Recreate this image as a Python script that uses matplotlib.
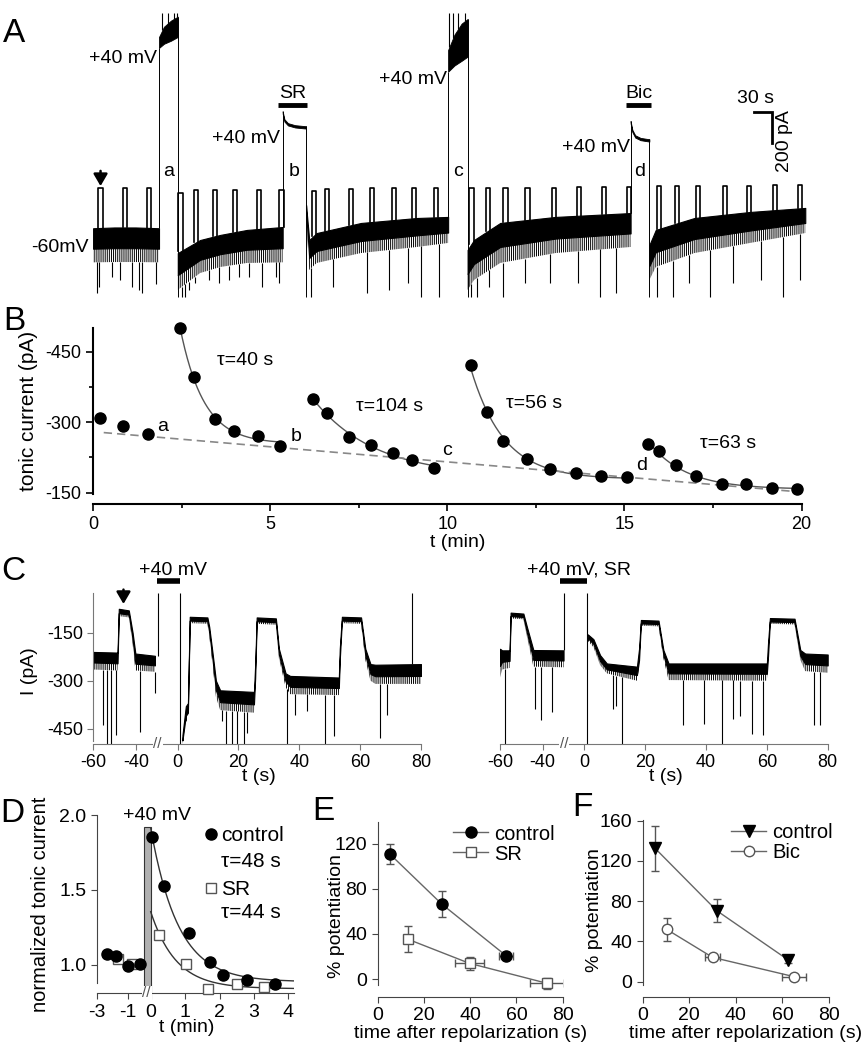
import numpy as np
import matplotlib.pyplot as plt
from matplotlib.ticker import MultipleLocator

plt.rcParams['font.family'] = ['Liberation Sans', 'DejaVu Sans']
plt.rcParams['font.size'] = 14
plt.rcParams['xtick.labelsize'] = 13
plt.rcParams['ytick.labelsize'] = 13
plt.rcParams['axes.unicode_minus'] = False
plt.rcParams['hatch.linewidth'] = 0.7

# ---------------- panel A: whole recording (t in min, I in pA) ----------------
a_seg_t = [[0.0, 0.6, 1.2, 1.86],
           [2.39, 3.02, 3.59, 4.34, 5.35],
           [6.01, 6.1, 6.31, 7.56, 9.13, 10.02],
           [10.57, 10.75, 11.49, 13.05, 15.17],
           [15.70, 15.88, 16.97, 18.54, 20.1]]
a_seg_top = [[-200, -195, -195, -200],
             [-360, -276, -243, -211, -192],
             [-50, -276, -231, -166, -134, -127],
             [-340, -276, -166, -127, -102],
             [-308, -211, -134, -95, -69]]
a_seg_bot = [[-420, -418, -418, -420],
             [-598, -489, -450, -424, -420],
             [-114, -469, -424, -360, -321, -295],
             [-598, -534, -424, -360, -321],
             [-534, -450, -360, -295, -231]]
a_spike_t = [0.10, 0.16, 0.52, 0.76, 1.09, 1.29, 1.37, 1.77,
             2.50, 2.60, 2.70, 2.89, 3.27, 3.55, 3.83, 4.12, 4.40, 4.78, 5.16, 5.26,
             6.16, 6.78, 7.72, 8.35, 8.90, 9.26, 9.76,
             10.67, 10.83, 11.17, 11.56, 12.19, 12.90, 13.68, 14.31, 14.75,
             15.91, 16.38, 16.82, 17.41, 18.07, 18.85, 19.48, 19.95]
a_spike_i = [-618, -579, -514, -534, -579, -600, -618, -560,
             -643, -643, -598, -553, -534, -553, -534, -514, -514, -579, -514, -553,
             -643, -579, -618, -598, -553, -643, -643,
             -643, -643, -579, -643, -553, -553, -553, -643, -618,
             -643, -643, -553, -643, -553, -534, -643, -534]
a_pulse_t = [0.21, 0.90, 1.58, 2.47, 2.90, 3.44, 4.00, 4.69, 5.32,
             6.23, 6.61, 7.27, 7.88, 8.50, 9.05, 9.68,
             10.68, 11.15, 11.64, 12.26, 13.00, 13.71, 14.41, 15.12,
             15.98, 16.48, 17.08, 17.83, 18.52, 19.24, 19.95]
a_pulse_top = [58, 58, 58, 30, 47, 47, 47, 47, 47,
               43, 50, 55, 60, 60, 60, 60,
               60, 60, 60, 62, 62, 65, 65, 65,
               70, 72, 75, 75, 75, 78, 78]
a_step_t = [[1.86, 2.0, 2.2, 2.39], [5.35, 5.40, 5.50, 5.70, 6.01],
            [10.02, 10.2, 10.4, 10.57], [15.17, 15.22, 15.30, 15.45, 15.70]]
a_step_lo = [[963, 990, 1010, 1034], [540, 488, 463, 450, 443],
             [810, 850, 880, 907], [477, 420, 385, 368, 359]]
a_step_hi = [[1034, 1100, 1140, 1165], [555, 503, 478, 465, 458],
             [950, 1050, 1120, 1150], [492, 435, 400, 383, 374]]
a_step_spike_t = [1.95, 2.10, 2.28, 2.36, 10.05, 10.16, 10.30, 10.50]
a_step_labels = ['a', 'b', 'c', 'd']
a_drug_names = ['SR', 'Bic']
a_drug_start = [5.23, 15.04]
a_drug_end = [6.05, 15.75]

# ---------------- panel B: tonic current (t in min, I in pA) ----------------
b_t = [[0.19, 0.85, 1.54],
       [2.45, 2.85, 3.44, 3.98, 4.66, 5.27],
       [6.21, 6.59, 7.23, 7.84, 8.46, 8.99, 9.63],
       [10.66, 11.11, 11.56, 12.24, 12.91, 13.63, 14.35, 15.08],
       [15.67, 15.97, 16.45, 17.01, 17.76, 18.42, 19.17, 19.86]]
b_i = [[-308, -291, -276],
       [-501, -396, -307, -282, -271, -249],
       [-349, -320, -269, -251, -234, -220, -203],
       [-421, -321, -260, -221, -200, -192, -186, -184],
       [-253, -239, -210, -186, -168, -168, -159, -157]]
b_tau = [None, 40, 104, 56, 63]
b_base_t = [0.3, 19.9]
b_base_i = [-278, -152]

# ---------------- panel C: single sweeps (t in s, I in pA) ----------------
c1_pre_t = [-60, -48.6, -48.0, -43.3, -41.5, -40.2, -31.0]
c1_pre_top = [-210, -212, -75, -80, -150, -215, -222]
c1_pre_bot = [-265, -268, -98, -102, -185, -268, -272]
c1_post_t = [1.6, 2.7, 3.4, 4.0, 9.8, 10.4, 11.5, 12.6, 14.0, 25.1, 25.5, 26.0, 32.3,
             33.3, 35.5, 37.0, 53.0, 53.3, 54.0, 60.3, 61.7, 63.4, 65.0, 80.0]
c1_post_top = [-470, -380, -370, -100, -102, -131, -214, -300, -330, -335, -250, -102, -105,
               -200, -277, -285, -290, -200, -100, -102, -200, -248, -250, -248]
c1_post_bot = [-498, -430, -420, -120, -122, -160, -250, -350, -392, -400, -320, -122, -125,
               -230, -320, -342, -345, -260, -120, -122, -235, -300, -310, -310]
c1_spike_t = [-55.3, -53.7, -51.7, -49.3, -38.0, -30.9,
              14.5, 15.95, 17.8, 19.5, 21.9, 22.8, 35.9, 38.7, 42.5, 48.5, 51.3, 66.6, 68.8]
c1_spike_i = [-440, -498, -498, -471, -461, -339,
              -427, -498, -498, -498, -498, -463, -498, -406, -396, -498, -474, -479, -406]
c1_step = [-28.1, 0.8]
c1_transient_t = 77.2

c2_pre_t = [-60, -59, -55.5, -55.0, -49.0, -47.4, -44.3, -30.1]
c2_pre_top = [-200, -205, -205, -87, -90, -130, -204, -205]
c2_pre_bot = [-290, -265, -260, -105, -108, -160, -256, -258]
c2_post_t = [1.15, 3.0, 5.2, 7.4, 17.3, 18.0, 18.6, 24.4, 26.0, 27.7, 60.0, 60.4, 61.0,
             69.1, 71.0, 72.6, 80.0]
c2_post_top = [-155, -170, -220, -246, -256, -200, -110, -112, -204, -246, -246, -180, -104,
               -106, -204, -215, -218]
c2_post_bot = [-175, -195, -251, -277, -300, -260, -128, -130, -230, -298, -300, -250, -122,
               -124, -235, -270, -275]
c2_spike_t = [-57.6, -43.5, -40.7, -35.3, 9.3, 10.4, 12.5, 32.3, 39.2, 45.2, 49.0, 51.1,
              55.1, 58.7, 75.4, 77.6]
c2_spike_i = [-498, -387, -424, -398, -390, -380, -498, -440, -435, -498, -420, -410,
              -466, -471, -440, -440]
c2_step = [-29.7, 0.8]

# ---------------- panel D: normalized tonic current (t in min) ----------------
d_ctrl_t = [-2.35, -1.75, -0.96, -0.21, 0.03, 0.39, 1.12, 1.72, 2.11, 2.79, 3.61]
d_ctrl_v = [1.073, 1.062, 0.995, 1.005, 1.851, 1.527, 1.211, 1.022, 0.933, 0.90, 0.871]
d_sr_t = [-1.60, -0.74, 0.25, 1.03, 1.67, 2.50, 3.29]
d_sr_v = [1.04, 1.005, 1.20, 1.005, 0.84, 0.871, 0.855]
d_tau_ctrl, d_tau_sr = 48, 44

# ---------------- panels E, F: % potentiation ----------------
e_ctrl_x = [5.3, 27.7, 55.5]
e_ctrl_y = [110.8, 66.5, 20.7]
e_ctrl_xerr = [0, 0, 3.2]
e_ctrl_yerr = [9, 11.2, 3]
e_sr_x = [13.2, 39.7, 73.2]
e_sr_y = [35.2, 13.9, -3.8]
e_sr_xerr = [0, 6.1, 7.4]
e_sr_yerr = [11.4, 6, 5]

f_ctrl_x = [5.3, 31.8, 62.5]
f_ctrl_y = [132.6, 70.6, 21.6]
f_ctrl_xerr = [0, 0, 0]
f_ctrl_yerr = [22.4, 11.3, 3]
f_bic_x = [10.3, 30.0, 65.0]
f_bic_y = [52, 24.2, 5]
f_bic_xerr = [0, 3.2, 5.2]
f_bic_yerr = [11.6, 3, 3]

W, H = 867, 1050


def box(l, t, r, b):
    return [l / W, 1 - b / H, (r - l) / W, (b - t) / H]


def pw(x, xp, fp):
    x = np.asarray(x, float)
    y = np.interp(x, xp, fp)
    s0 = (fp[1] - fp[0]) / (xp[1] - xp[0])
    s1 = (fp[-1] - fp[-2]) / (xp[-1] - xp[-2])
    y = np.where(x < xp[0], fp[0] + (x - xp[0]) * s0, y)
    y = np.where(x > xp[-1], fp[-1] + (x - xp[-1]) * s1, y)
    return y


def broken_scale(tb, ub):
    return (lambda x: pw(x, tb, ub)), (lambda u: pw(u, ub, tb))


def exp_fit(t, v, tau, t_end=None):
    t = np.asarray(t, float)
    v = np.asarray(v, float)
    e = np.exp(-(t - t[0]) / tau)
    A = np.vstack([np.ones_like(t), e]).T
    c = np.linalg.lstsq(A, v, rcond=None)[0]
    tt = np.linspace(t[0] if t_end is None else 0, t[-1] if t_end is None else t_end, 200)
    return tt, c[0] + c[1] * np.exp(-(tt - t[0]) / tau)


def noisy_band(ax, t, top, bot, solid=0.5):
    # dense upper part of a noisy trace, spiky (hatched) lower fringe
    top = np.asarray(top, float)
    bot = np.asarray(bot, float)
    mid = top + solid * (bot - top)
    ax.fill_between(t, mid, top, color='k', lw=0.8)
    ax.fill_between(t, bot, mid, facecolor='none', edgecolor='k', hatch='||||||||', lw=0)


def break_mark(ax, x):
    ax.text(x, 0, '//', transform=ax.get_xaxis_transform(), ha='center', va='center',
            fontsize=11, color='#555', bbox=dict(fc='white', ec='none', pad=0.5))


fig = plt.figure(figsize=(W / 100, H / 100), dpi=100)

# ================= A =================
axA = fig.add_axes(box(93.1, 10, 815.9, 300))
axA.set_xlim(0, 20.4)
axA.set_ylim(-663, 1208)
axA.axis('off')
all_t = np.concatenate(a_seg_t)
all_top = np.concatenate(a_seg_top)
all_bot = np.concatenate(a_seg_bot)
for t, top, bot in zip(a_seg_t, a_seg_top, a_seg_bot):
    noisy_band(axA, t, top, bot, 0.6)
axA.vlines(a_spike_t, a_spike_i, np.interp(a_spike_t, all_t, all_bot), color='k', lw=0.8)
for tc, top in zip(a_pulse_t, a_pulse_top):
    base = np.interp(tc, all_t, all_top)
    axA.plot([tc - 0.06, tc - 0.06, tc + 0.06, tc + 0.06], [base, top, top, base],
             color='k', lw=1.2, solid_joinstyle='round')
for t, lo, hi in zip(a_step_t, a_step_lo, a_step_hi):
    axA.fill_between(t, lo, hi, color='k', lw=0.6)
    axA.vlines(t[0], np.interp(t[0], all_t, all_top), lo[0], color='k', lw=0.7)
    axA.vlines(t[-1], -643, hi[-1], color='k', lw=0.7)
hi_all = np.concatenate(a_step_hi)
t_all = np.concatenate(a_step_t)
axA.vlines(a_step_spike_t, np.interp(a_step_spike_t, t_all, hi_all), 1190, color='k', lw=0.8)
mv_pos = [(1.80, 898), (5.28, 382), (9.99, 757), (15.14, 324)]
for (x, y) in mv_pos:
    axA.text(x, y, '+40 mV', ha='right', va='center', fontsize=14)
for lab, t in zip(a_step_labels, a_step_t):
    axA.text((t[0] + t[-1]) / 2, 163, lab, ha='center', va='center', fontsize=14)
for name, s, e in zip(a_drug_names, a_drug_start, a_drug_end):
    axA.plot([s, e], [595, 595], color='k', lw=3.5, solid_capstyle='butt')
    axA.text((s + e) / 2, 668, name, ha='center', va='center', fontsize=14)
axA.text(-0.12, -327, '-60mV', ha='right', va='center', fontsize=14)
axA.annotate('', xy=(a_pulse_t[0], 72), xytext=(a_pulse_t[0], 170),
             arrowprops=dict(arrowstyle='-|>,head_width=0.35,head_length=0.6', color='k',
                             lw=1.8, mutation_scale=12, shrinkA=0, shrinkB=0))
# scale bar 30 s / 200 pA
axA.plot([18.65, 19.15, 19.15], [550, 550, 350], color='k', lw=2, solid_joinstyle='miter')
axA.text(18.7, 635, '30 s', ha='center', va='center', fontsize=14)
axA.text(19.5, 365, '200 pA', ha='center', va='center', rotation=90, fontsize=14)

# ================= B =================
axB = fig.add_axes(box(93.1, 328.3, 801.5, 504))
axB.set_xlim(0, 20)
axB.set_ylim(-126, -500)
for k in range(5):
    axB.plot(b_t[k], b_i[k], 'o', color='k', ms=8, zorder=3, clip_on=False)
    if b_tau[k]:
        tt, ff = exp_fit(b_t[k], b_i[k], b_tau[k] / 60)
        axB.plot(tt, ff, color='#555', lw=1, zorder=2)
axB.plot(b_base_t, b_base_i, '--', color='#888', lw=1.2, dashes=(5, 3))
for side in ['top', 'right']:
    axB.spines[side].set_visible(False)
axB.spines['left'].set_bounds(-500, -148)
for side in ['left', 'bottom']:
    axB.spines[side].set_linewidth(1.5)
axB.set_yticks([-450, -300, -150])
axB.yaxis.set_minor_locator(MultipleLocator(75))
axB.xaxis.set_major_locator(MultipleLocator(5))
axB.xaxis.set_minor_locator(MultipleLocator(2.5))
axB.tick_params(which='both', direction='out', width=1.2)
axB.tick_params(which='major', length=5)
axB.tick_params(which='minor', length=3)
axB.set_xlabel('t (min)', fontsize=14)
axB.xaxis.set_label_coords(0.515, -0.17)
axB.set_ylabel('tonic current (pA)', fontsize=15)
axB.yaxis.set_label_coords(-0.078, 0.53)
for (x, y, s) in [(3.49, -431, 'τ=40 s'), (7.42, -334, 'τ=104 s'),
                  (11.67, -339, 'τ=56 s'), (17.13, -255, 'τ=63 s')]:
    axB.text(x, y, s, ha='left', va='center', fontsize=14)
for (x, y, s) in [(1.95, -292, 'a'), (5.72, -269, 'b'), (9.98, -239, 'c'), (15.48, -207, 'd')]:
    axB.text(x, y, s, ha='center', va='center', fontsize=14)

# ================= C =================
c_fwd, c_inv = broken_scale([-60, -30, 0, 80], [0, 63.7, 84.2, 327.4])
c_sets = [
    (box(93.3, 588, 421, 744), c1_pre_t, c1_pre_top, c1_pre_bot, c1_post_t, c1_post_top,
     c1_post_bot, c1_spike_t, c1_spike_i, c1_step, '+40 mV'),
    (box(500, 588, 827.7, 744), c2_pre_t, c2_pre_top, c2_pre_bot, c2_post_t, c2_post_top,
     c2_post_bot, c2_spike_t, c2_spike_i, c2_step, '+40 mV, SR'),
]
for j, (rect, pt, ptop, pbot, qt, qtop, qbot, st, si, step, title) in enumerate(c_sets):
    ax = fig.add_axes(rect)
    ax.set_xscale('function', functions=(c_fwd, c_inv))
    ax.set_xlim(-60, 80)
    ax.set_ylim(-498, -10)
    noisy_band(ax, pt, ptop, pbot, 0.6)
    noisy_band(ax, qt, qtop, qbot, 0.6)
    tall = np.concatenate([pt, qt])
    ball = np.concatenate([pbot, qbot])
    ax.vlines(st, si, np.interp(st, tall, ball), color='k', lw=0.8)
    ax.vlines(step[0], np.interp(step[0], pt, ptop), -25, color='k', lw=0.8)
    ax.vlines(step[1], -498, -25, color='k', lw=0.8)
    ax.plot([step[0] - 2, step[1]], [12, 12], color='k', lw=4, solid_capstyle='butt', clip_on=False)
    ax.text(step[0] + 22, 45, title, ha='center', va='center', fontsize=14, clip_on=False)
    for side in ['top', 'right']:
        ax.spines[side].set_visible(False)
    ax.spines['bottom'].set_color('#777')
    ax.spines['left'].set_color('#777')
    ax.set_xticks([-60, -40, 0, 20, 40, 60, 80])
    ax.xaxis.set_minor_locator(plt.NullLocator())
    ax.tick_params(axis='both', colors='#777', labelcolor='k', length=4)
    ax.set_xlabel('t (s)', fontsize=14)
    ax.xaxis.set_label_coords(0.505, -0.155)
    break_mark(ax, -29)
    if j == 0:
        ax.spines['left'].set_bounds(-490, -25)
        ax.set_yticks([-150, -300, -450])
        ax.set_ylabel('I (pA)', fontsize=14)
        ax.yaxis.set_label_coords(-0.169, 0.47)
        ax.vlines(c1_transient_t, np.interp(c1_transient_t, qt, qtop), -25, color='k', lw=0.8)
        ax.annotate('', xy=(-45.8, -60), xytext=(-45.8, -15),
                    arrowprops=dict(arrowstyle='-|>,head_width=0.35,head_length=0.6',
                                    color='k', lw=1.8, mutation_scale=12, shrinkA=0, shrinkB=0))
    else:
        ax.spines['left'].set_visible(False)
        ax.set_yticks([])

# ================= D =================
d_fwd, d_inv = broken_scale([-3, -0.1, 0, 4.15], [0, 45, 54, 196.8])
axD = fig.add_axes(box(96.7, 815, 293.5, 993.3))
axD.set_xscale('function', functions=(d_fwd, d_inv))
axD.set_xlim(-3, 4.15)
axD.set_ylim(0.81, 2.0)
axD.axvspan(-0.07, 0, ymin=0, ymax=(1.922 - 0.81) / 1.19, facecolor='#b0b0b0',
            edgecolor='#333', lw=0.8)
ct = np.array(d_ctrl_t); cv = np.array(d_ctrl_v)
stt = np.array(d_sr_t); sv = np.array(d_sr_v)
tt, ff = exp_fit(ct[ct >= 0], cv[ct >= 0], d_tau_ctrl / 60, t_end=4.15)
axD.plot(tt, ff, color='#333', lw=1)
tt, ff = exp_fit(stt[stt >= 0], sv[stt >= 0], d_tau_sr / 60, t_end=4.15)
axD.plot(tt, ff, color='#333', lw=1)
hs = axD.plot(d_sr_t, d_sr_v, 's', ms=7.5, mfc='white', mec='#555', mew=1, ls='none',
              clip_on=False, zorder=3)
hc = axD.plot(d_ctrl_t, d_ctrl_v, 'o', ms=8, color='k', ls='none', clip_on=False, zorder=4)
axD.legend([hc[0], hs[0]], ['control', 'SR'], loc='upper left', bbox_to_anchor=(0.505, 0.985),
           frameon=False, handlelength=0.6, handletextpad=0.2, labelspacing=1.7,
           borderaxespad=0, fontsize=15)
axD.text(2.92, 1.69, 'τ=48 s', ha='center', va='center', fontsize=15)
axD.text(2.92, 1.35, 'τ=44 s', ha='center', va='center', fontsize=15)
axD.text(0.17, 2.0, '+40 mV', ha='center', va='center', fontsize=14)
for side in ['top', 'right']:
    axD.spines[side].set_visible(False)
axD.spines['left'].set_bounds(0.88, 2.0)
for side in ['left', 'bottom']:
    axD.spines[side].set_color('#444')
axD.set_xticks([-3, -1, 0, 1, 2, 3, 4])
axD.xaxis.set_minor_locator(plt.NullLocator())
axD.set_yticks([1.0, 1.5, 2.0])
axD.set_yticklabels(['1.0', '1.5', '2.0'])
axD.tick_params(axis='both', colors='#444', labelcolor='k', length=4, labelsize=14)
axD.set_xlabel('t (min)', fontsize=14)
axD.xaxis.set_label_coords(0.457, -0.145)
axD.set_ylabel('normalized tonic current', fontsize=14.5)
axD.yaxis.set_label_coords(-0.237, 0.5)
break_mark(axD, -0.045)


def pot_panel(rect, ylim, sbounds, yticks, c, o, cmark, omark, olabel, leg_x):
    ax = fig.add_axes(rect)
    ax.set_xlim(0, 80)
    ax.set_ylim(*ylim)
    cx, cy, cxe, cye = c
    ox, oy, oxe, oye = o
    ax.errorbar(cx, cy, xerr=cxe, yerr=cye, fmt='none', ecolor='#555', elinewidth=1,
                capsize=3, capthick=1)
    ax.errorbar(ox, oy, xerr=oxe, yerr=oye, fmt='none', ecolor='#555', elinewidth=1,
                capsize=3, capthick=1)
    ax.plot(cx, cy, '-', color='#666', lw=1, marker=cmark, ms=9 if cmark == 'v' else 8,
            mfc='k', mec='k', label='control', clip_on=False)
    ax.plot(ox, oy, '-', color='#666', lw=1, marker=omark, ms=7.5, mfc='white', mec='#555',
            mew=1, label=olabel, clip_on=False)
    ax.legend(loc='upper left', bbox_to_anchor=(leg_x, 1.03), frameon=False,
              handlelength=1.75, handletextpad=0.3, labelspacing=0.05, borderaxespad=0,
              fontsize=14.5)
    for side in ['top', 'right']:
        ax.spines[side].set_visible(False)
    ax.spines['left'].set_bounds(*sbounds)
    for side in ['left', 'bottom']:
        ax.spines[side].set_color('#444')
    ax.set_xticks([0, 20, 40, 60, 80])
    ax.set_yticks(yticks)
    ax.tick_params(axis='both', colors='#444', labelcolor='k', length=4, labelsize=14)
    ax.set_xlabel('time after repolarization (s)', fontsize=14)
    ax.set_ylabel('% potentiation', fontsize=14)
    return ax


axE = pot_panel(box(377.7, 821.7, 562.7, 996.7), (-15.7, 139.6), (-5.5, 139.6),
                [0, 40, 80, 120],
                (e_ctrl_x, e_ctrl_y, e_ctrl_xerr, e_ctrl_yerr),
                (e_sr_x, e_sr_y, e_sr_xerr, e_sr_yerr), 'o', 's', 'SR', 0.364)
axE.yaxis.set_label_coords(-0.175, 0.46)
axE.xaxis.set_label_coords(0.5, -0.16)
axF = pot_panel(box(642.7, 820, 829, 996.7), (-14.9, 160.7), (-3.3, 160.7),
                [0, 40, 80, 120, 160],
                (f_ctrl_x, f_ctrl_y, f_ctrl_xerr, f_ctrl_yerr),
                (f_bic_x, f_bic_y, f_bic_xerr, f_bic_yerr), 'v', 'o', 'Bic', 0.431)
axF.yaxis.set_label_coords(-0.215, 0.49)
axF.xaxis.set_label_coords(0.55, -0.16)

# panel letters
for s, x, y in [('A', 14, 33), ('B', 14, 322), ('C', 13, 571), ('D', 12, 813),
                ('E', 323, 812), ('F', 582, 808)]:
    fig.text(x / W, 1 - y / H, s, fontsize=24, ha='center', va='center')

fig.savefig('out.png', dpi=100)
